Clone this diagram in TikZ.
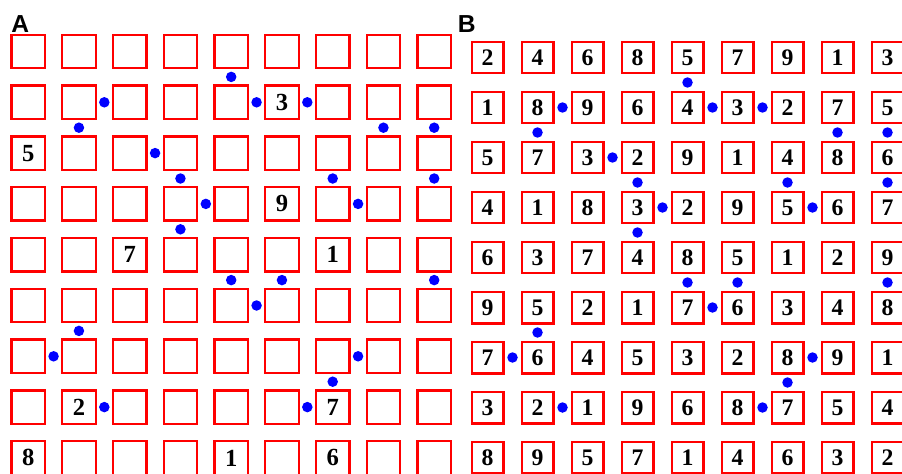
\documentclass[tikz,border=0pt]{standalone}
\usepackage{fontspec}
\setmainfont{Liberation Serif}
\newfontfamily\panelfont{Liberation Sans}
\begin{document}
\begin{tikzpicture}[x=0.02cm, y=-0.02cm,
    cellA/.style={draw=red, line width=0.046cm, minimum size=0.67cm, inner sep=0pt,
      font=\fontsize{14}{14}\selectfont\bfseries},
    cellB/.style={draw=red, line width=0.046cm, minimum size=0.634cm, inner sep=0pt,
      font=\fontsize{13.5}{13.5}\selectfont\bfseries},
    kdot/.style={circle, fill=blue, minimum size=0.21cm, inner sep=0pt},
    panel/.style={anchor=base west, inner sep=0pt,
      font=\panelfont\fontsize{14}{14}\selectfont\bfseries}]
  % frame (bottom row and last column run off the edge)
  \useasboundingbox (0,0) rectangle (902,473);
  \clip (0,0) rectangle (902,473);
  % panel letters
  \node[panel] (labA) at (11,32.3) {A};
  \node[panel] (labB) at (457.5,32.3) {B};
  % grid A, givens only (0 = empty)
  \foreach \vals [count=\r from 0] in {
      {0,0,0,0,0,0,0,0,0},
      {0,0,0,0,0,3,0,0,0},
      {5,0,0,0,0,0,0,0,0},
      {0,0,0,0,0,9,0,0,0},
      {0,0,7,0,0,0,1,0,0},
      {0,0,0,0,0,0,0,0,0},
      {0,0,0,0,0,0,0,0,0},
      {0,2,0,0,0,0,7,0,0},
      {8,0,0,0,1,0,6,0,0}}
    \foreach \d [count=\c from 0] in \vals
      \node[cellA] (a-\r-\c) at (28.2+50.75*\c, 51.5+50.8*\r) {\ifnum\d>0 \d\fi};
  % grid B, solution
  \foreach \vals [count=\r from 0] in {
      {2,4,6,8,5,7,9,1,3},
      {1,8,9,6,4,3,2,7,5},
      {5,7,3,2,9,1,4,8,6},
      {4,1,8,3,2,9,5,6,7},
      {6,3,7,4,8,5,1,2,9},
      {9,5,2,1,7,6,3,4,8},
      {7,6,4,5,3,2,8,9,1},
      {3,2,1,9,6,8,7,5,4},
      {8,9,5,7,1,4,6,3,2}}
    \foreach \d [count=\c from 0] in \vals
      \node[cellB] (b-\r-\c) at (487.5+50*\c, 57.5+50*\r) {\d};
  % dots between horizontal neighbours
  \foreach \r/\c in {1/1,1/4,1/5,2/2,3/3,3/6,5/4,6/0,6/6,7/1,7/5} {
    \pgfmathtruncatemacro\n{\c+1}
    \path (a-\r-\c) -- (a-\r-\n) node[midway, kdot] {};
    \path (b-\r-\c) -- (b-\r-\n) node[midway, kdot] {};
  }
  % dots between vertical neighbours
  \foreach \r/\c in {0/4,1/1,1/7,1/8,2/3,2/6,2/8,3/3,4/4,4/5,4/8,5/1,6/6} {
    \pgfmathtruncatemacro\n{\r+1}
    \path (a-\r-\c) -- (a-\n-\c) node[midway, kdot] {};
    \path (b-\r-\c) -- (b-\n-\c) node[midway, kdot] {};
  }
\end{tikzpicture}
\end{document}
